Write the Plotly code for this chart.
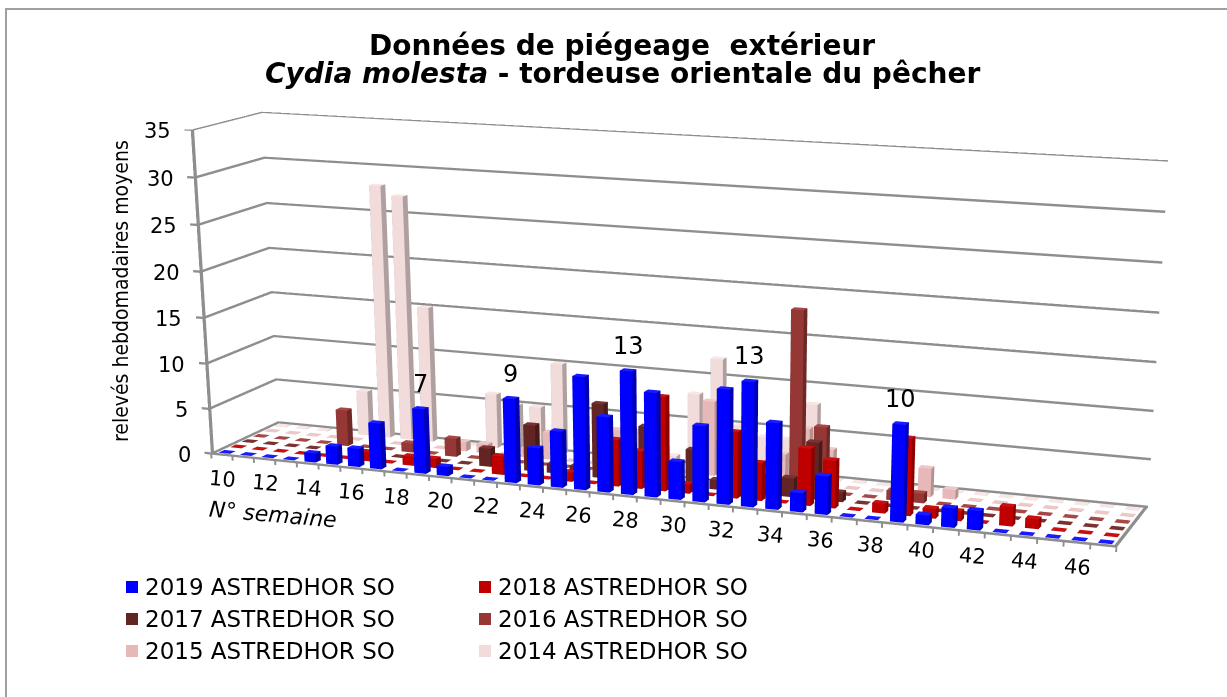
import plotly.graph_objects as go

# ---- data ----
weeks = list(range(10, 48))
week_labels = ["10", "12", "14", "16", "18", "20", "22", "24", "26", "28",
               "30", "32", "34", "36", "38", "40", "42", "44", "46"]
value_ticks = [0, 5, 10, 15, 20, 25, 30, 35]

s2019 = [0,0,0,0,1,2,2,5,0,7,1,0,0,9,4,6,12,8,13,11,4,8,12,13,9,2,4,0,0,10,1,2,2,0,0,0,0,0]
s2018 = [0,0,0,0,0,0,1,0,1,1,0,0,2,0,0,1,0,5,4,10,1,0,7,4,0,6,5,0,1,8,1,1,0,2,1,0,0,0]
s2017 = [0,0,0,0,0,0,0,0,0,0,0,2,0,5,1,1,8,2,6,2,4,1,4,1,2,6,1,0,0,0,0,0,0,0,0,0,0,0]
s2016 = [0,0,0,0,4,0,0,1,0,2,0,0,0,0,0,0,0,0,0,0,0,0,0,0,19,7,0,0,1,1,0,0,0,0,0,0,0,0]
s2015 = [0,0,0,0,0,0,0,0,0,1,1,0,1,3,0,0,4,4,0,0,8,0,0,3,6,4,0,0,0,3,1,0,0,0,0,0,0,0]
s2014 = [0,0,0,0,5,28,27,15,0,0,6,5,5,10,0,0,0,0,1,8,12,5,4,4,8,0,0,0,0,0,0,0,0,0,0,0,0,0]

names = ["2019 ASTREDHOR SO", "2018 ASTREDHOR SO", "2017 ASTREDHOR SO",
         "2016 ASTREDHOR SO", "2015 ASTREDHOR SO", "2014 ASTREDHOR SO"]
front_colors = ["#0000FF", "#C00000", "#632523", "#953735", "#E6B9B8", "#F2DCDB"]
side_colors = ["#0000B4", "#8E0000", "#451A18", "#6E2826", "#B39290", "#AFA09F"]
top_colors = ["#1A1AFF", "#C81010", "#7A3230", "#A84846", "#EDC8C7", "#F7E6E5"]
peak_labels = {19: "7", 23: "9", 28: "13", 33: "13", 39: "10"}

series = [s2019, s2018, s2017, s2016, s2015, s2014]

# ---- page geometry ----
W, H, OFF, LEFT = 1390, 2198, 441, 2
FONT = "DejaVu Sans"
GREY = "#8E8E8E"
px = lambda x: (x - LEFT) / W
py = lambda y: 1 - (y + OFF) / H

HX, HY = 0.26, 0.23
XMIN, XMAX, YMIN, YMAX = 9.5, 47.5, -0.5, 5.5
LZ, LX, LY = 0.11, 0.06, 0.06   # thickness of the drawn rules, in data units
FLAT = dict(ambient=1, diffuse=0, specular=0, roughness=1, fresnel=0)


class Boxes:
    def __init__(self):
        self.x, self.y, self.z, self.i, self.j, self.k, self.c = [], [], [], [], [], [], []

    def add(self, x0, x1, y0, y1, z0, z1, front, side, top):
        b = len(self.x)
        for z in (z0, z1):
            for x, y in ((x0, y0), (x1, y0), (x1, y1), (x0, y1)):
                self.x.append(x); self.y.append(y); self.z.append(z)
        faces = [((0, 1, 5), front), ((0, 5, 4), front),
                 ((1, 2, 6), side), ((1, 6, 5), side),
                 ((2, 3, 7), side), ((2, 7, 6), side),
                 ((3, 0, 4), side), ((3, 4, 7), side),
                 ((4, 5, 6), top), ((4, 6, 7), top),
                 ((0, 1, 2), side), ((0, 2, 3), side)]
        for (a, c, d), col in faces:
            self.i.append(b + a); self.j.append(b + c); self.k.append(b + d); self.c.append(col)

    def trace(self):
        return go.Mesh3d(x=self.x, y=self.y, z=self.z, i=self.i, j=self.j, k=self.k, facecolor=self.c,
                         flatshading=True, lighting=FLAT, hoverinfo="skip", showscale=False)


fig = go.Figure()

# gridlines, axis lines and tick marks
rules = Boxes()
for v in value_ticks:
    rules.add(XMIN - 0.3, XMIN, YMIN, YMIN + LY, v - LZ, v + LZ, GREY, GREY, GREY)
    rules.add(XMIN, XMIN + LX, YMIN, YMAX, v - LZ, v + LZ, GREY, GREY, GREY)
    rules.add(XMIN, XMAX, YMAX - LY, YMAX, v - LZ, v + LZ, GREY, GREY, GREY)
rules.add(XMIN, XMIN + 2 * LX, YMIN, YMIN + LY, 0, 35, GREY, GREY, GREY)
rules.add(XMIN, XMAX, YMIN, YMIN + LY, -LZ, LZ, GREY, GREY, GREY)
rules.add(XMAX - 2 * LX, XMAX, YMIN, YMAX, -LZ / 2, LZ / 2, GREY, GREY, GREY)
for w in weeks + [48]:
    t = min(w - 0.5 + LX / 2, XMAX)
    rules.add(t - LX, t, YMIN, YMIN + LY, -0.55, 0, GREY, GREY, GREY)
fig.add_trace(rules.trace())

for r, vals in enumerate(series):
    bx = Boxes()
    for w, v in zip(weeks, vals):
        bx.add(w - HX, w + HX, r - HY, r + HY, 0, max(v, 0.03), front_colors[r], side_colors[r], top_colors[r])
    fig.add_trace(bx.trace())

scene_ann = []
for lab in week_labels:
    scene_ann.append(dict(x=int(lab), y=YMIN, z=0, text=lab, showarrow=False, yshift=-24, xshift=1,
                          textangle=5, font=dict(family=FONT, size=21, color="#000000")))
for v in value_ticks:
    scene_ann.append(dict(x=XMIN, y=YMIN, z=v, text=str(v), showarrow=False, xanchor="right", xshift=-18,
                          yshift=-1, font=dict(family=FONT, size=21, color="#000000")))
for w, t in peak_labels.items():
    scene_ann.append(dict(x=w, y=0, z=s2019[weeks.index(w)], text=t, showarrow=False, yshift=24,
                          font=dict(family=FONT, size=24, color="#000000")))

axis_common = dict(showbackground=False, showspikes=False, showticklabels=False, title="", zeroline=False,
                   showline=False, showgrid=False, ticks="", tickmode="array", tickvals=[])
scene = dict(
    domain=dict(x=[0, 1], y=[0, 1]),
    aspectmode="manual",
    aspectratio=dict(x=1.00789, y=0.15, z=0.356),
    camera=dict(eye=dict(x=0.98545, y=-2.518, z=0.5705),
                center=dict(x=0.08545, y=-0.115, z=-0.324),
                up=dict(x=0, y=0, z=1)),
    xaxis=dict(axis_common, range=[XMIN - 0.3, XMAX]),
    yaxis=dict(axis_common, range=[YMIN, YMAX]),
    zaxis=dict(axis_common, range=[-0.6, 35]),
    annotations=scene_ann,
)

anns = [
    dict(xref="paper", yref="paper", x=px(622), y=py(46), xanchor="center", yanchor="middle", showarrow=False,
         text="<b>Données de piégeage \u00a0extérieur</b>",
         font=dict(family=FONT, size=28, color="#000000")),
    dict(xref="paper", yref="paper", x=px(622), y=py(74), xanchor="center", yanchor="middle", showarrow=False,
         text="<b><i>Cydia molesta</i> - tordeuse orientale du pêcher</b>",
         font=dict(family=FONT, size=28, color="#000000")),
    dict(xref="paper", yref="paper", x=px(121), y=py(291), xanchor="center", yanchor="middle", showarrow=False,
         textangle=-90, text="relevés hebdomadaires moyens",
         font=dict(family="DejaVu Sans Condensed, Liberation Sans Narrow, Liberation Sans", size=21, color="#000000")),
    dict(xref="paper", yref="paper", x=px(273), y=py(514), xanchor="center", yanchor="middle", showarrow=False,
         textangle=5, text="<i>N° semaine</i>", font=dict(family=FONT, size=22, color="#000000")),
]
shapes = [dict(type="rect", xref="paper", yref="paper", x0=px(6), x1=px(1300), y0=py(9), y1=py(1000),
               line=dict(color="#A0A0A0", width=2), fillcolor="rgba(0,0,0,0)")]

rows_y = [587, 619, 651]
cols_x = [126, 479]
for i, n in enumerate(names):
    cx, ry_ = cols_x[i % 2], rows_y[i // 2]
    shapes.append(dict(type="rect", xref="paper", yref="paper", x0=px(cx), x1=px(cx + 12), y0=py(ry_ - 6), y1=py(ry_ + 6),
                       line=dict(width=0), fillcolor=front_colors[i]))
    anns.append(dict(xref="paper", yref="paper", x=px(cx + 17), y=py(ry_), xanchor="left", yanchor="middle",
                     showarrow=False, text=n, font=dict(family=FONT, size=23, color="#000000")))

fig.update_layout(width=W, height=H, margin=dict(l=0, r=0, t=0, b=0, pad=0), paper_bgcolor="#FFFFFF",
                  showlegend=False, scene=scene, annotations=anns, shapes=shapes)

post = """
document.documentElement.style.overflow='hidden';
document.body.style.margin='0';
document.body.style.overflow='hidden';
var g=document.getElementsByClassName('plotly-graph-div')[0];
g.style.position='absolute'; g.style.left='%dpx'; g.style.top='-%dpx';
""" % (LEFT, OFF)
fig.write_html("out.html", post_script=post, config=dict(displayModeBar=False))
